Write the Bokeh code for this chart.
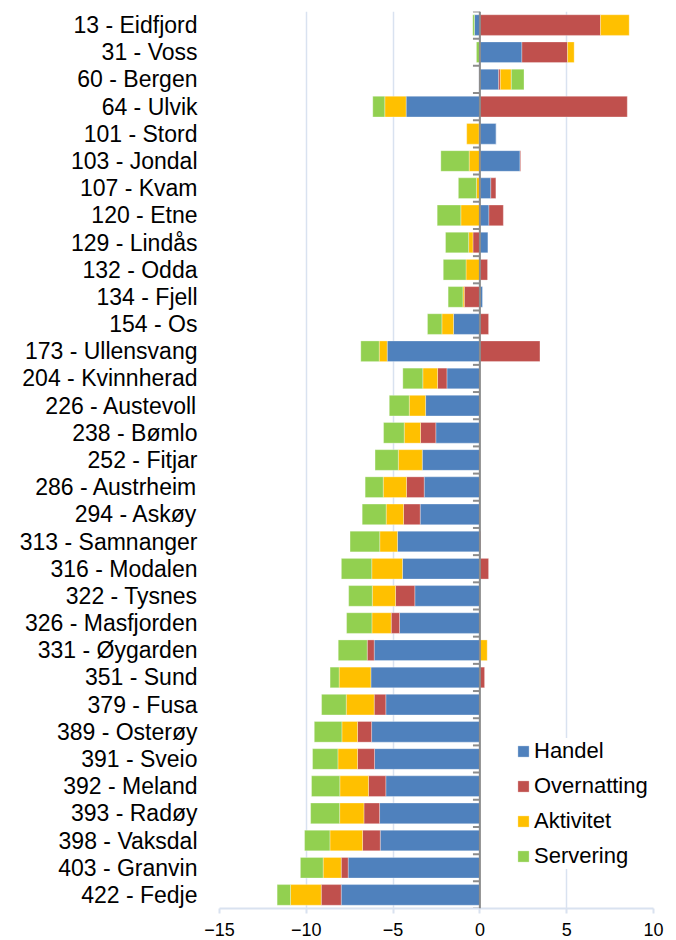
from bokeh.plotting import figure
from bokeh.models import Range1d, FixedTicker, Span, Legend, LegendItem, ColumnDataSource
from bokeh.embed import file_html
from bokeh.resources import INLINE

categories = ["13 - Eidfjord", "31 - Voss", "60 - Bergen", "64 - Ulvik", "101 - Stord",
              "103 - Jondal", "107 - Kvam", "120 - Etne", "129 - Lindås", "132 - Odda",
              "134 - Fjell", "154 - Os", "173 - Ullensvang", "204 - Kvinnherad",
              "226 - Austevoll", "238 - Bømlo", "252 - Fitjar", "286 - Austrheim",
              "294 - Askøy", "313 - Samnanger", "316 - Modalen", "322 - Tysnes",
              "326 - Masfjorden", "331 - Øygarden", "351 - Sund", "379 - Fusa",
              "389 - Osterøy", "391 - Sveio", "392 - Meland", "393 - Radøy",
              "398 - Vaksdal", "403 - Granvin", "422 - Fedje"]

handel = [-0.31, 2.42, 1.08, -4.25, 0.94, 2.31, 0.63, 0.52, 0.46, 0.0,
          0.15, -1.52, -5.34, -1.90, -3.13, -2.54, -3.32, -3.21, -3.44, -4.75,
          -4.46, -3.75, -4.63, -6.09, -6.28, -5.42, -6.24, -6.07, -5.42, -5.78,
          -5.74, -7.59, -7.99]
overnatting = [6.95, 2.63, 0.10, 8.49, -0.05, 0.04, 0.29, 0.83, -0.40, 0.44,
               -0.90, 0.50, 3.46, -0.54, 0.0, -0.88, 0.0, -1.02, -0.96, 0.05,
               0.50, -1.11, -0.48, -0.40, 0.27, -0.67, -0.81, -0.98, -1.00, -0.90,
               -1.02, -0.40, -1.15]
aktivitet = [1.65, 0.38, 0.63, -1.23, -0.71, -0.62, -0.20, -1.10, -0.25, -0.80,
             -0.08, -0.67, -0.46, -0.85, -0.94, -0.94, -1.38, -1.34, -1.00, -1.02,
             -1.77, -1.34, -1.11, 0.42, -1.83, -1.61, -0.90, -1.13, -1.65, -1.40,
             -1.88, -1.04, -1.77]
servering = [-0.10, -0.20, 0.73, -0.69, 0.0, -1.63, -1.04, -1.36, -1.33, -1.31,
             -0.85, -0.83, -1.06, -1.15, -1.15, -1.19, -1.34, -1.04, -1.38, -1.71,
             -1.75, -1.36, -1.46, -1.67, -0.52, -1.42, -1.59, -1.46, -1.63, -1.67,
             -1.46, -1.31, -0.77]

series_names = ["Handel", "Overnatting", "Aktivitet", "Servering"]
series_values = [handel, overnatting, aktivitet, servering]
series_colors = ["#4F81BD", "#C0504D", "#FFC000", "#92D050"]
x_ticks = [-15, -10, -5, 0, 5, 10]

FONT = "Liberation Sans"
n = len(categories)
ys = list(range(n))

p = figure(width=676, height=940, output_backend="svg", toolbar_location=None,
           x_range=Range1d(-15, 10), y_range=Range1d(n - 0.5, -0.5),
           min_border_left=219, min_border_right=23, min_border_top=11,
           min_border_bottom=32)
p.outline_line_color = None
p.background_fill_color = "white"

# stacked bars (positive and negative stacks separately)
pos = [0.0] * n
neg = [0.0] * n
renderers = []
for name, vals, col in zip(series_names, series_values, series_colors):
    left, right = [], []
    for i, v in enumerate(vals):
        if v >= 0:
            left.append(pos[i]); right.append(pos[i] + v); pos[i] += v
        else:
            right.append(neg[i]); left.append(neg[i] + v); neg[i] += v
    src = ColumnDataSource(dict(y=ys, left=left, right=right))
    r = p.hbar(y="y", left="left", right="right", height=0.76, source=src,
               fill_color=col, line_color="white", line_width=0.6, line_alpha=0.5)
    renderers.append((name, r))

# category axis line at zero with boundary tick marks
p.add_layout(Span(location=0, dimension="height", line_color="#8C8C8C", line_width=2))
bounds = [i - 0.5 for i in range(n + 1)]
p.segment(x0=[0] * len(bounds), x1=[-0.4] * len(bounds), y0=bounds, y1=bounds,
          line_color="#8C8C8C", line_width=2)

# x axis
xa = p.xaxis[0]
xa.ticker = FixedTicker(ticks=x_ticks)
xa.axis_line_color = "#D9E2F0"
xa.axis_line_width = 2
xa.major_tick_line_color = "#D9E2F0"
xa.major_tick_line_width = 2
xa.major_tick_out = 5
xa.major_tick_in = 0
xa.minor_tick_line_color = None
xa.major_label_text_font = FONT
xa.major_label_text_font_size = "18px"
xa.major_label_text_color = "#000000"
xa.major_label_standoff = 9

# y axis (category labels)
ya = p.yaxis[0]
ya.ticker = FixedTicker(ticks=ys)
ya.major_label_overrides = {i: c for i, c in enumerate(categories)}
ya.axis_line_color = None
ya.major_tick_line_color = None
ya.minor_tick_line_color = None
ya.major_tick_out = 0
ya.major_label_standoff = 22
ya.major_label_text_font = FONT
ya.major_label_text_font_size = "23px"
ya.major_label_text_color = "#000000"

p.xgrid.ticker = FixedTicker(ticks=x_ticks)
p.xgrid.grid_line_color = "#D9E2F0"
p.xgrid.grid_line_width = 1.5
p.ygrid.grid_line_color = None

legend = Legend(items=[LegendItem(label=nm, renderers=[r]) for nm, r in renderers],
                location=(297, 39), padding=3, margin=0, spacing=9,
                glyph_width=14, glyph_height=14, label_height=24, label_standoff=4,
                label_text_font=FONT, label_text_font_size="22px",
                label_text_color="#000000", border_line_color=None,
                background_fill_color="white", background_fill_alpha=1.0)
p.add_layout(legend)

open("out.html", "w").write(file_html(p, INLINE))
